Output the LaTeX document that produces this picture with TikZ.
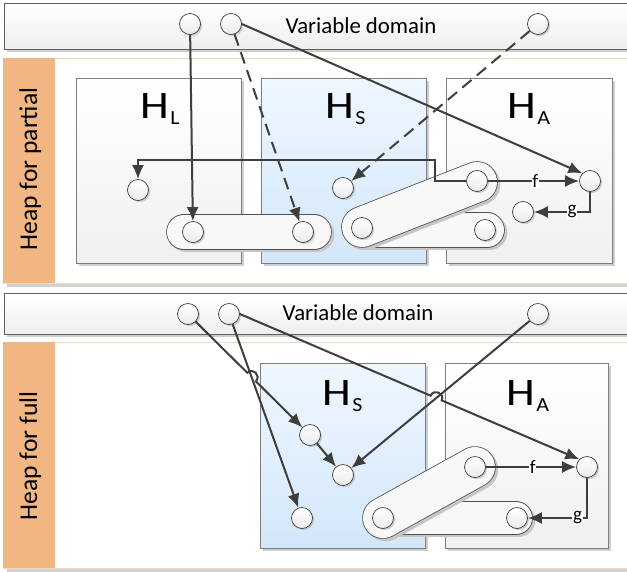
\documentclass[tikz,border=0pt]{standalone}
\usepackage{fontspec}
\setmainfont{Carlito}
\usetikzlibrary{arrows.meta,shadows,calc,intersections}

\definecolor{heaporange}{RGB}{242,182,131}
\definecolor{paneledge}{RGB}{248,214,186}
\definecolor{boxedge}{RGB}{125,125,125}
\definecolor{baredge}{RGB}{95,95,95}
\definecolor{linkcol}{RGB}{62,62,62}
\definecolor{stackTop}{RGB}{239,247,255}
\definecolor{stackBot}{RGB}{211,231,250}
\definecolor{capedge}{RGB}{80,80,80}
\definecolor{capfill}{RGB}{248,248,248}

% heap name with its subscript letter
\newcommand\heapname[1]{{\fontsize{39}{39}\selectfont\scalebox{1.18}[1]{H}}\hspace{1.5pt}\raisebox{-6pt}{\fontsize{20}{20}\selectfont\scalebox{1.1}[1]{#1}}}

% capsule around two cells: axis end points and diameter (pt)
\newcommand\capsule[3]{%
  \draw[line cap=round, line width=#3pt+1.6pt, gray!45, shift={(2.5,2.5)}] #1 -- #2;
  \draw[line cap=round, line width=#3pt+1.6pt, capedge] #1 -- #2;
  \draw[line cap=round, line width=#3pt, capfill] #1 -- #2;
}

\begin{document}
\begin{tikzpicture}[x=1pt,y=-1pt,
  shadebox/.style={draw=boxedge, line width=0.8pt, top color=white, bottom color=gray!12,
    drop shadow={shadow xshift=3pt, shadow yshift=-3pt, fill=gray!70, opacity=0.55}},
  stackbox/.style={shadebox, top color=stackTop, bottom color=stackBot},
  varbar/.style={draw=baredge, line width=0.9pt, top color=white, bottom color=gray!13,
    drop shadow={shadow xshift=3pt, shadow yshift=-3pt, fill=gray!70, opacity=0.55}},
  cell/.style={circle, draw=linkcol, line width=0.7pt, minimum size=21pt, inner sep=0pt,
    top color=white, bottom color=gray!16,
    drop shadow={shadow xshift=1.6pt, shadow yshift=-1.6pt, fill=gray!80, opacity=0.45}},
  link/.style={draw=linkcol, line width=2pt, -{Latex[length=14pt,width=12pt]}},
  dlink/.style={link, dash pattern=on 12pt off 7pt},
  lab/.style={fill=white, inner sep=0.6pt, font=\fontsize{19}{19}\selectfont},
  hlabel/.style={anchor=base west, inner sep=0pt},
  vtext/.style={rotate=90, anchor=base, inner sep=0pt, font=\fontsize{25.6}{27}\selectfont},
  bartext/.style={anchor=base, inner sep=0pt, font=\fontsize{22.8}{24}\selectfont},
]
\useasboundingbox (0,0) rectangle (627,571);
\clip (0,0) rectangle (627,571);
\fill[white] (0,0) rectangle (627,571);

% ---------------- partial heap ----------------
\draw[varbar] (4,3) rectangle (645,49);
\node[bartext] (vdtop) at (361,33) {Variable domain};

\fill[gray!35] (7,283) rectangle (645,287);
\draw[paneledge, line width=0.9pt, fill=white] (3,58) rectangle (645,283);
\fill[heaporange] (3,58) rectangle (55,283);
\node[vtext] (hpart) at (37,169) {Heap for partial};

\draw[shadebox] (76,78) rectangle (241,263);
\draw[stackbox] (261,78) rectangle (426,263);
\draw[shadebox] (446,78) rectangle (612,263);
\node[hlabel] (nHL) at (140,118) {\heapname{L}};
\node[hlabel] (nHS) at (325,118) {\heapname{S}};
\node[hlabel] (nHA) at (507,118) {\heapname{A}};

\capsule{(184,232)}{(314,232)}{34}
\capsule{(362,230)}{(487,230)}{34}
\capsule{(362,227)}{(477,182)}{40}

\node[cell] (v1) at (190,24) {};
\node[cell] (v2) at (231,24) {};
\node[cell] (v3) at (538,24) {};
\node[cell] (tL) at (138,190) {};
\node[cell] (t2) at (193,232) {};
\node[cell] (t3) at (303,232) {};
\node[cell] (tS) at (343,188) {};
\node[cell] (tP1) at (362,228) {};
\node[cell] (tP2) at (477,181) {};
\node[cell] (tP3) at (485,230) {};
\node[cell] (tA1) at (590,181) {};
\node[cell] (tA2) at (523,212) {};

\coordinate (bend) at (435,160);
\draw[link] (v1) -- (t2);
\draw[dlink] (v2) -- (t3);
\draw[link] (v2.east) -- (tA1.north west);
\draw[dlink] (v3) -- (tS);
\draw[link] (tP2) -- (tP2 -| bend) |- (tL |- bend) -- (tL);
\draw[link] (tP2) -- node[lab, pos=0.52] {f} (tA1);
\draw[link] (tA1) |- node[lab, pos=0.66] {g} (tA2);

% ---------------- full heap ----------------
\draw[varbar] (4,293) rectangle (645,334);
\node[bartext] (vdbot) at (358,320) {Variable domain};

\fill[gray!35] (7,568) rectangle (645,572);
\draw[paneledge, line width=0.9pt, fill=white] (3,342) rectangle (645,568);
\fill[heaporange] (3,342) rectangle (55,568);
\node[vtext] (hfull) at (37,456) {Heap for full};

\draw[stackbox] (260,363) rectangle (425,548);
\draw[shadebox] (445,363) rectangle (608,548);
\node[hlabel] (mHS) at (322,405) {\heapname{S}};
\node[hlabel] (mHA) at (506,405) {\heapname{A}};

\capsule{(395,518)}{(516,518)}{32}
\capsule{(383,518)}{(475,467)}{40}

\node[cell] (w1) at (188,314) {};
\node[cell] (w2) at (229,314) {};
\node[cell] (w3) at (538,314) {};
\node[cell] (bS1) at (310,435) {};
\node[cell] (bS2) at (302,518) {};
\node[cell] (bS3) at (343,475) {};
\node[cell] (bP1) at (383,518) {};
\node[cell] (bP2) at (475,467) {};
\node[cell] (bP3) at (517,518) {};
\node[cell] (bA1) at (587,467) {};

% crossings, where one line hops over the other
\path[name path=la] (w1) -- (bS1);
\path[name path=lb] (w2) -- (bS2);
\path[name intersections={of=la and lb, by=hopA}];
\path[name path=lc] (w2.east) -- (bA1.north west);
\path[name path=ld] (w3) -- (bS3);
\path[name intersections={of=lc and ld, by=hopB}];

\draw[link] (w1) -- ($(hopA)!6pt!(w1)$) to[bend left=90, looseness=1.7] ($(hopA)!6pt!(bS1)$) -- (bS1);
\draw[link] (w2) -- (bS2);
\draw[link] (bS1) -- (bS3);
\draw[link] (w3) -- (bS3);
\draw[link] (w2.east) -- ($(hopB)!6pt!(w2.east)$) to[bend left=90, looseness=1.7] ($(hopB)!6pt!(bA1.north west)$) -- (bA1.north west);
\draw[link] (bP2) -- node[lab, pos=0.52] {f} (bA1);
\draw[link] (bA1) |- node[lab, pos=0.58] {g} (bP3);
\end{tikzpicture}
\end{document}
